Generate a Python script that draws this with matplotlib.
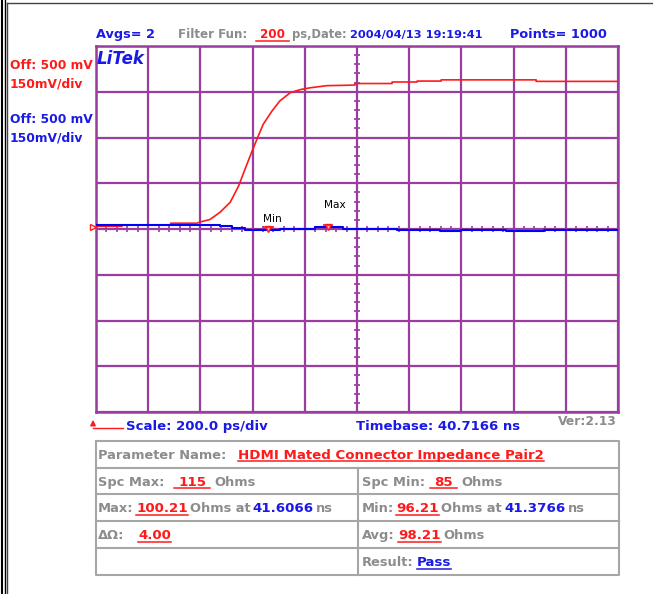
import numpy as np
import matplotlib
matplotlib.use("Agg")
import matplotlib.pyplot as plt

# ---------------- data ----------------
timebase_ns = 40.7166
scale_ns_per_div = 0.2
offset_mv = 500
mv_per_div = 150

red_t = [40.7166, 40.816, 40.816, 41.000, 41.003, 41.103, 41.115, 41.153, 41.192, 41.231,
         41.263, 41.287, 41.313, 41.333, 41.357, 41.391, 41.421, 41.461, 41.499, 41.537,
         41.601, 41.663, 41.709, 41.709, 41.851, 41.851, 41.947, 41.947, 42.039, 42.039,
         42.403, 42.403, 42.7166]
red_v = [509, 509, 513, 513, 519, 519, 523, 531, 555, 588,
         641, 695, 752, 794, 843, 887, 920, 947, 957, 963,
         970, 971, 972, 977, 977, 982, 982, 985, 985, 989,
         989, 984, 984]

blue_t = [40.7166, 41.1916, 41.2386, 41.2866, 41.4206, 41.4606, 41.5566, 41.6626,
          41.8706, 42.0346, 42.1146, 42.2866, 42.4326, 42.7166]
blue_v = [514, 510, 502, 497, 499, 500, 507, 501, 497, 493, 497, 493, 497, 497]

min_t, min_v = 41.3766, 500
max_t, max_v = 41.6066, 508
ref_level_mv = 508

# ---------------- style ----------------
PURPLE = "#993d9e"
RED = "#ff1a1a"
BLUE = "#1a1ae6"
GREY = "#8c8c8c"
W, H = 653, 594

fig = plt.figure(figsize=(W / 100, H / 100), dpi=100)
fig.patch.set_facecolor("white")

# plot area
ax = fig.add_axes([96 / W, (H - 412) / H, 522 / W, 366 / H])
x0, x1 = timebase_ns, timebase_ns + 10 * scale_ns_per_div
y0, y1 = offset_mv - 4 * mv_per_div, offset_mv + 4 * mv_per_div
ax.set_xlim(x0, x1)
ax.set_ylim(y0, y1)
ax.set_xticks(np.linspace(x0, x1, 11))
ax.set_yticks(np.linspace(y0, y1, 9))
ax.tick_params(length=0, labelbottom=False, labelleft=False)
ax.grid(True, color=PURPLE, lw=1.6)
for s in ax.spines.values():
    s.set_color(PURPLE)
    s.set_linewidth(1.8)
xc = (x0 + x1) / 2
ax.plot(np.linspace(x0, x1, 51), np.full(51, offset_mv), ls="none", marker="|",
        ms=5, mew=1.2, color=PURPLE, zorder=2)
ax.plot(np.full(41, xc), np.linspace(y0, y1, 41), ls="none", marker="_",
        ms=5, mew=1.2, color=PURPLE, zorder=2)

ax.plot(red_t, red_v, color=RED, lw=1.2, zorder=3)
ax.step(blue_t, blue_v, where="post", color="#0000ff", lw=1.5, zorder=4)

# min / max markers
for t, v, lab, dx, dy in [(min_t, min_v, "Min", -3.6, 3.5), (max_t, max_v, "Max", -3.0, 12)]:
    ax.plot([t], [v], marker="v", ms=5, mfc="#ffb0b0", mec=RED, mew=1, zorder=5)
    ax.plot([t], [v + 6], marker="_", ms=7, mew=1.2, color=RED, zorder=5)
    ax.annotate(lab, (t, v), xytext=(dx, dy), textcoords="offset points",
                fontsize=7.6, color="black", ha="left", va="bottom")
ax.plot([x0 - 0.012], [ref_level_mv], marker=">", ms=5, mfc="white", mec=RED,
        mew=1, clip_on=False, zorder=6)

# overlay in pixel coordinates
ov = fig.add_axes([0, 0, 1, 1], zorder=10)
ov.set_xlim(0, W)
ov.set_ylim(H, 0)
ov.axis("off")
ov.patch.set_visible(False)
renderer = fig.canvas.get_renderer()

def txt(x, yc, s, color, size, weight="bold", ul=None, style="normal"):
    t = ov.text(x, yc + size * 0.48, s, color=color, fontsize=size, fontweight=weight,
                fontstyle=style, ha="left", va="baseline", family="DejaVu Sans")
    if ul is not None:
        bb = t.get_window_extent(renderer=renderer)
        xa, xb = (bb.x0 - ul, bb.x1 + ul)
        ov.plot([xa, xb], [yc + size * 0.48 + 2.5] * 2, color=color, lw=1.1)
    return t

# frame lines
ov.plot([1.5, 1.5], [0, H], color="black", lw=1.5)
ov.plot([4.5, 4.5], [0, H], color="black", lw=1.0)
ov.plot([6.5, 6.5], [2.5, H], color="#444444", lw=1.0)
ov.plot([6.5, W], [2.5, 2.5], color="#444444", lw=1.0)

# header
txt(96, 34, "Avgs= 2", BLUE, 9.3)
txt(178, 34, "Filter Fun:", GREY, 8.6)
txt(260, 34, "200", RED, 8.6, ul=4)
txt(292, 34, "ps,Date:", GREY, 8.3)
txt(350, 34, "2004/04/13 19:19:41", BLUE, 8.2)
txt(510, 34, "Points= 1000", BLUE, 9.3)

# left labels
txt(10, 65, "Off: 500 mV", RED, 8.8)
txt(10, 83, "150mV/div", RED, 8.8)
txt(10, 119, "Off: 500 mV", BLUE, 8.8)
txt(10, 137, "150mV/div", BLUE, 8.8)

txt(97, 58, "LiTek", BLUE, 12, style="italic")

# bottom line
ov.annotate("", xy=(93, 417), xytext=(93, 428),
            arrowprops=dict(arrowstyle="-|>", color=RED, lw=1, mutation_scale=8))
ov.plot([93, 123], [428, 428], color=RED, lw=1)
txt(126, 425, "Scale: 200.0 ps/div", BLUE, 9.5)
txt(356, 425, "Timebase: 40.7166 ns", BLUE, 9.5)
txt(558, 421, "Ver:2.13", GREY, 8.8)

# table
TB = "#a6a6a6"
ov.plot([96, 619, 619, 96, 96], [441, 441, 575, 575, 441], color=TB, lw=1.5)
for yy in [467.5, 494, 521, 548]:
    ov.plot([96, 619], [yy, yy], color=TB, lw=1.5)
ov.plot([358, 358], [467.5, 575], color=TB, lw=1.5)

G, V = 9.4, 9.6
txt(98, 454, "Parameter Name:", GREY, G)
txt(238, 454, "HDMI Mated Connector Impedance Pair2", RED, V, ul=0)
txt(98, 481, "Spc Max:", GREY, G)
txt(178, 481, "115", RED, V, ul=4)
txt(214, 481, "Ohms", GREY, G)
txt(362, 481, "Spc Min:", GREY, G)
txt(434, 481, "85", RED, V, ul=4)
txt(461, 481, "Ohms", GREY, G)
txt(98, 507.5, "Max:", GREY, G)
txt(136, 507.5, "100.21", RED, V, ul=0)
txt(190, 507.5, "Ohms at", GREY, G)
txt(252, 507.5, "41.6066", BLUE, V)
txt(316, 507.5, "ns", GREY, G)
txt(362, 507.5, "Min:", GREY, G)
txt(396, 507.5, "96.21", RED, V, ul=0)
txt(441, 507.5, "Ohms at", GREY, G)
txt(504, 507.5, "41.3766", BLUE, V)
txt(568, 507.5, "ns", GREY, G)
txt(98, 534.5, "\u0394\u03a9:", GREY, G)
txt(138, 534.5, "4.00", RED, V, ul=0)
txt(362, 534.5, "Avg:", GREY, G)
txt(398, 534.5, "98.21", RED, V, ul=0)
txt(443, 534.5, "Ohms", GREY, G)
txt(362, 561.5, "Result:", GREY, G)
txt(417, 561.5, "Pass", BLUE, V, ul=0)

fig.savefig("out.png", dpi=100)
